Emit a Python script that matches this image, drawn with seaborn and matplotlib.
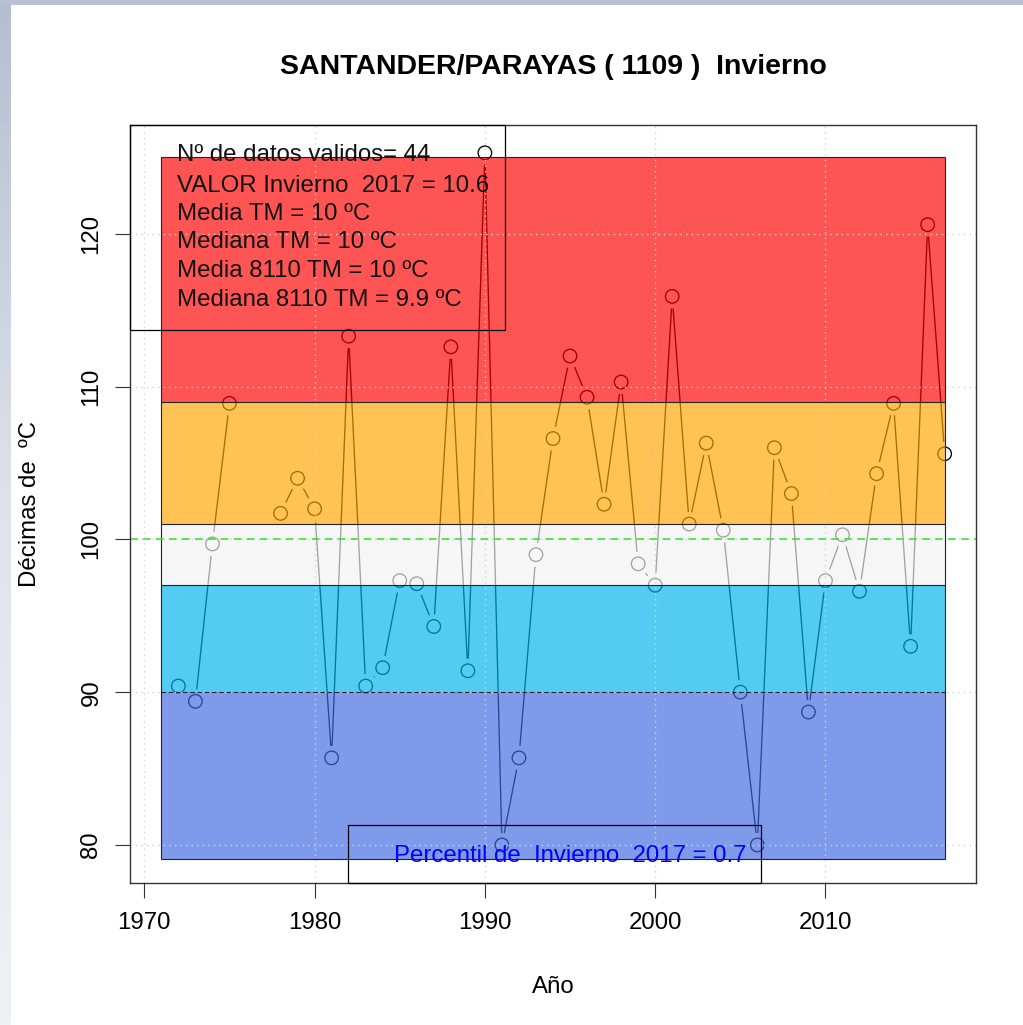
import numpy as np
import pandas as pd
import seaborn as sns
import matplotlib
matplotlib.use("Agg")
import matplotlib.pyplot as plt
from matplotlib.patches import Rectangle
from matplotlib.colors import to_rgb, LinearSegmentedColormap

# winter mean temperature (decimas de ºC), 1976-1977 missing
years = [1972, 1973, 1974, 1975, 1978, 1979, 1980, 1981, 1982, 1983, 1984,
         1985, 1986, 1987, 1988, 1989, 1990, 1991, 1992, 1993, 1994, 1995,
         1996, 1997, 1998, 1999, 2000, 2001, 2002, 2003, 2004, 2005, 2006,
         2007, 2008, 2009, 2010, 2011, 2012, 2013, 2014, 2015, 2016, 2017]
tm = [90.4, 89.4, 99.7, 108.9, 101.7, 104.0, 102.0, 85.7, 113.3, 90.4, 91.6,
      97.3, 97.1, 94.3, 112.6, 91.4, 125.3, 80.0, 85.7, 99.0, 106.6, 112.0,
      109.3, 102.3, 110.3, 98.4, 97.0, 115.9, 101.0, 106.3, 100.6, 90.0, 80.0,
      106.0, 103.0, 88.7, 97.3, 100.3, 96.6, 104.3, 108.9, 93.0, 120.6, 105.6]

# percentile bands (bottom -> top)
band_edges = [79.05, 90, 97, 101, 109, 125.05]
band_years = [1971, 2017]
band_colors = ["royalblue", "#00b2ee", "#f3f3f3", "orange", "red"]
ref_p10 = 90
ref_median = 100

title = "SANTANDER/PARAYAS ( 1109 )  Invierno"
info_lines = ["Nº de datos validos= 44",
              "VALOR Invierno  2017 = 10.6",
              "Media TM = 10 ºC",
              "Mediana TM = 10 ºC",
              "Media 8110 TM = 10 ºC",
              "Mediana 8110 TM = 9.9 ºC"]
percentil_text = "Percentil de  Invierno  2017 = 0.7"
x_ticks = [1970, 1980, 1990, 2000, 2010]
y_ticks = [80, 90, 100, 110, 120]

sns.set_theme(style="white", rc={"axes.edgecolor": "#333333", "axes.linewidth": 1.0,
                                 "text.color": "black", "axes.labelcolor": "black",
                                 "xtick.color": "#333333", "ytick.color": "#333333",
                                 "xtick.labelcolor": "black", "ytick.labelcolor": "black"})
plt.rcParams["font.family"] = ["Liberation Sans", "DejaVu Sans"]

W, H = 1023, 1025
fig = plt.figure(figsize=(W / 100, H / 100), dpi=100)
fig.patch.set_facecolor("#b7c1d3")
fig.patches.append(Rectangle((11 / W, 0), 1 - 11 / W, 1 - 5 / H, transform=fig.transFigure,
                             facecolor="white", edgecolor="none", zorder=-5))
# left strip of the page frame, fading out downwards
strip = fig.add_axes([0, 0, 11 / W, 1 - 5 / H])
cmap = LinearSegmentedColormap.from_list("frame", ["#eff1f5", "#dfe3eb", "#b5bfd0"])
strip.imshow(np.linspace(1, 0, 200)[:, None], aspect="auto", cmap=cmap)
strip.set_axis_off()

ax = fig.add_axes([130 / W, (H - 883) / H, 846 / W, 758 / H])
ax.set_facecolor("white")

df = pd.DataFrame({"year": years, "tm": tm})
df["seg"] = (df["year"].diff() > 1).cumsum()

# series: line, white halo to cut the line at the points, hollow circles
sns.lineplot(data=df, x="year", y="tm", units="seg", estimator=None, color="black",
             lw=0.95, ax=ax, zorder=1)
sns.scatterplot(data=df, x="year", y="tm", marker="o", s=300, color="white",
                edgecolor="none", linewidth=0, ax=ax, zorder=1.1)
sns.scatterplot(data=df, x="year", y="tm", marker="o", s=95, facecolor="none",
                edgecolor="black", linewidth=0.95, ax=ax, zorder=1.2)

# translucent bands on top of the series
for lo, hi, c in zip(band_edges[:-1], band_edges[1:], band_colors):
    ax.add_patch(Rectangle((band_years[0], lo), band_years[1] - band_years[0], hi - lo,
                           facecolor=(*to_rgb(c), 0.67), edgecolor="none", zorder=2))
solid_edges = [e for e in band_edges if e != ref_p10]
ax.hlines(solid_edges, band_years[0], band_years[1], color="#222222", lw=0.8, zorder=3)
ax.vlines(band_years, band_edges[0], band_edges[-1], color="#222222", lw=0.8, zorder=3)
ax.hlines(ref_p10, band_years[0], band_years[1], color="#222222", lw=0.8,
          linestyles=(0, (4, 2.5)), zorder=4)
ax.axhline(ref_median, color="#33dd33", lw=1.1, ls=(0, (5, 3.5)), zorder=4)

ax.set_xlim(1969.16, 2018.84)
ax.set_ylim(77.51, 127.12)
ax.set_xticks(x_ticks)
ax.set_yticks(y_ticks)
ax.set_yticklabels([str(v) for v in y_ticks], rotation=90, va="center")
ax.grid(True, color="#d3d3d3", linestyle=(0, (1, 3)), lw=1.0)
ax.set_axisbelow(False)
for g in ax.get_xgridlines() + ax.get_ygridlines():
    g.set_zorder(2.5)
ax.tick_params(axis="both", which="major", direction="out", length=10.8, width=0.8,
               labelsize=17.3, left=True, bottom=True)
ax.tick_params(axis="x", pad=10)
ax.tick_params(axis="y", pad=9)
for s in ax.spines.values():
    s.set_zorder(5)

ax.set_xlabel("Año", fontsize=17.3)
ax.xaxis.set_label_coords(0.5, (883 - 987) / 758)
ax.xaxis.label.set_va("center")
ax.set_ylabel("Décimas de  ºC", fontsize=17.3)
ax.yaxis.set_label_coords((30 - 130) / 846, 0.5)
ax.yaxis.label.set_va("center")
ax.text(0.5, (883 - 67) / 758, title, transform=ax.transAxes, ha="center", va="center",
        fontsize=20.5, fontweight="bold")

# info legend, top left
ax.add_patch(Rectangle((0, (883 - 330) / 758), (505 - 130) / 846, 1 - (883 - 330) / 758,
                       transform=ax.transAxes, fill=False, edgecolor="black", lw=0.9,
                       zorder=6, clip_on=False))
info_y = [155, 186, 214, 242, 271, 300]
for txt, py in zip(info_lines, info_y):
    ax.text((177 - 130) / 846, (883 - py) / 758, txt, transform=ax.transAxes,
            ha="left", va="center", fontsize=17.3, color="#111111", zorder=7)

# percentile legend, bottom
ax.add_patch(Rectangle(((348 - 130) / 846, 0), (761 - 348) / 846, (883 - 825) / 758,
                       transform=ax.transAxes, fill=False, edgecolor="black", lw=0.9,
                       zorder=6, clip_on=False))
ax.text((570 - 130) / 846, (883 - 856) / 758, percentil_text, transform=ax.transAxes,
        ha="center", va="center", fontsize=17.3, color="blue", zorder=7)

fig.savefig("out.png", dpi=100, facecolor=fig.get_facecolor())
